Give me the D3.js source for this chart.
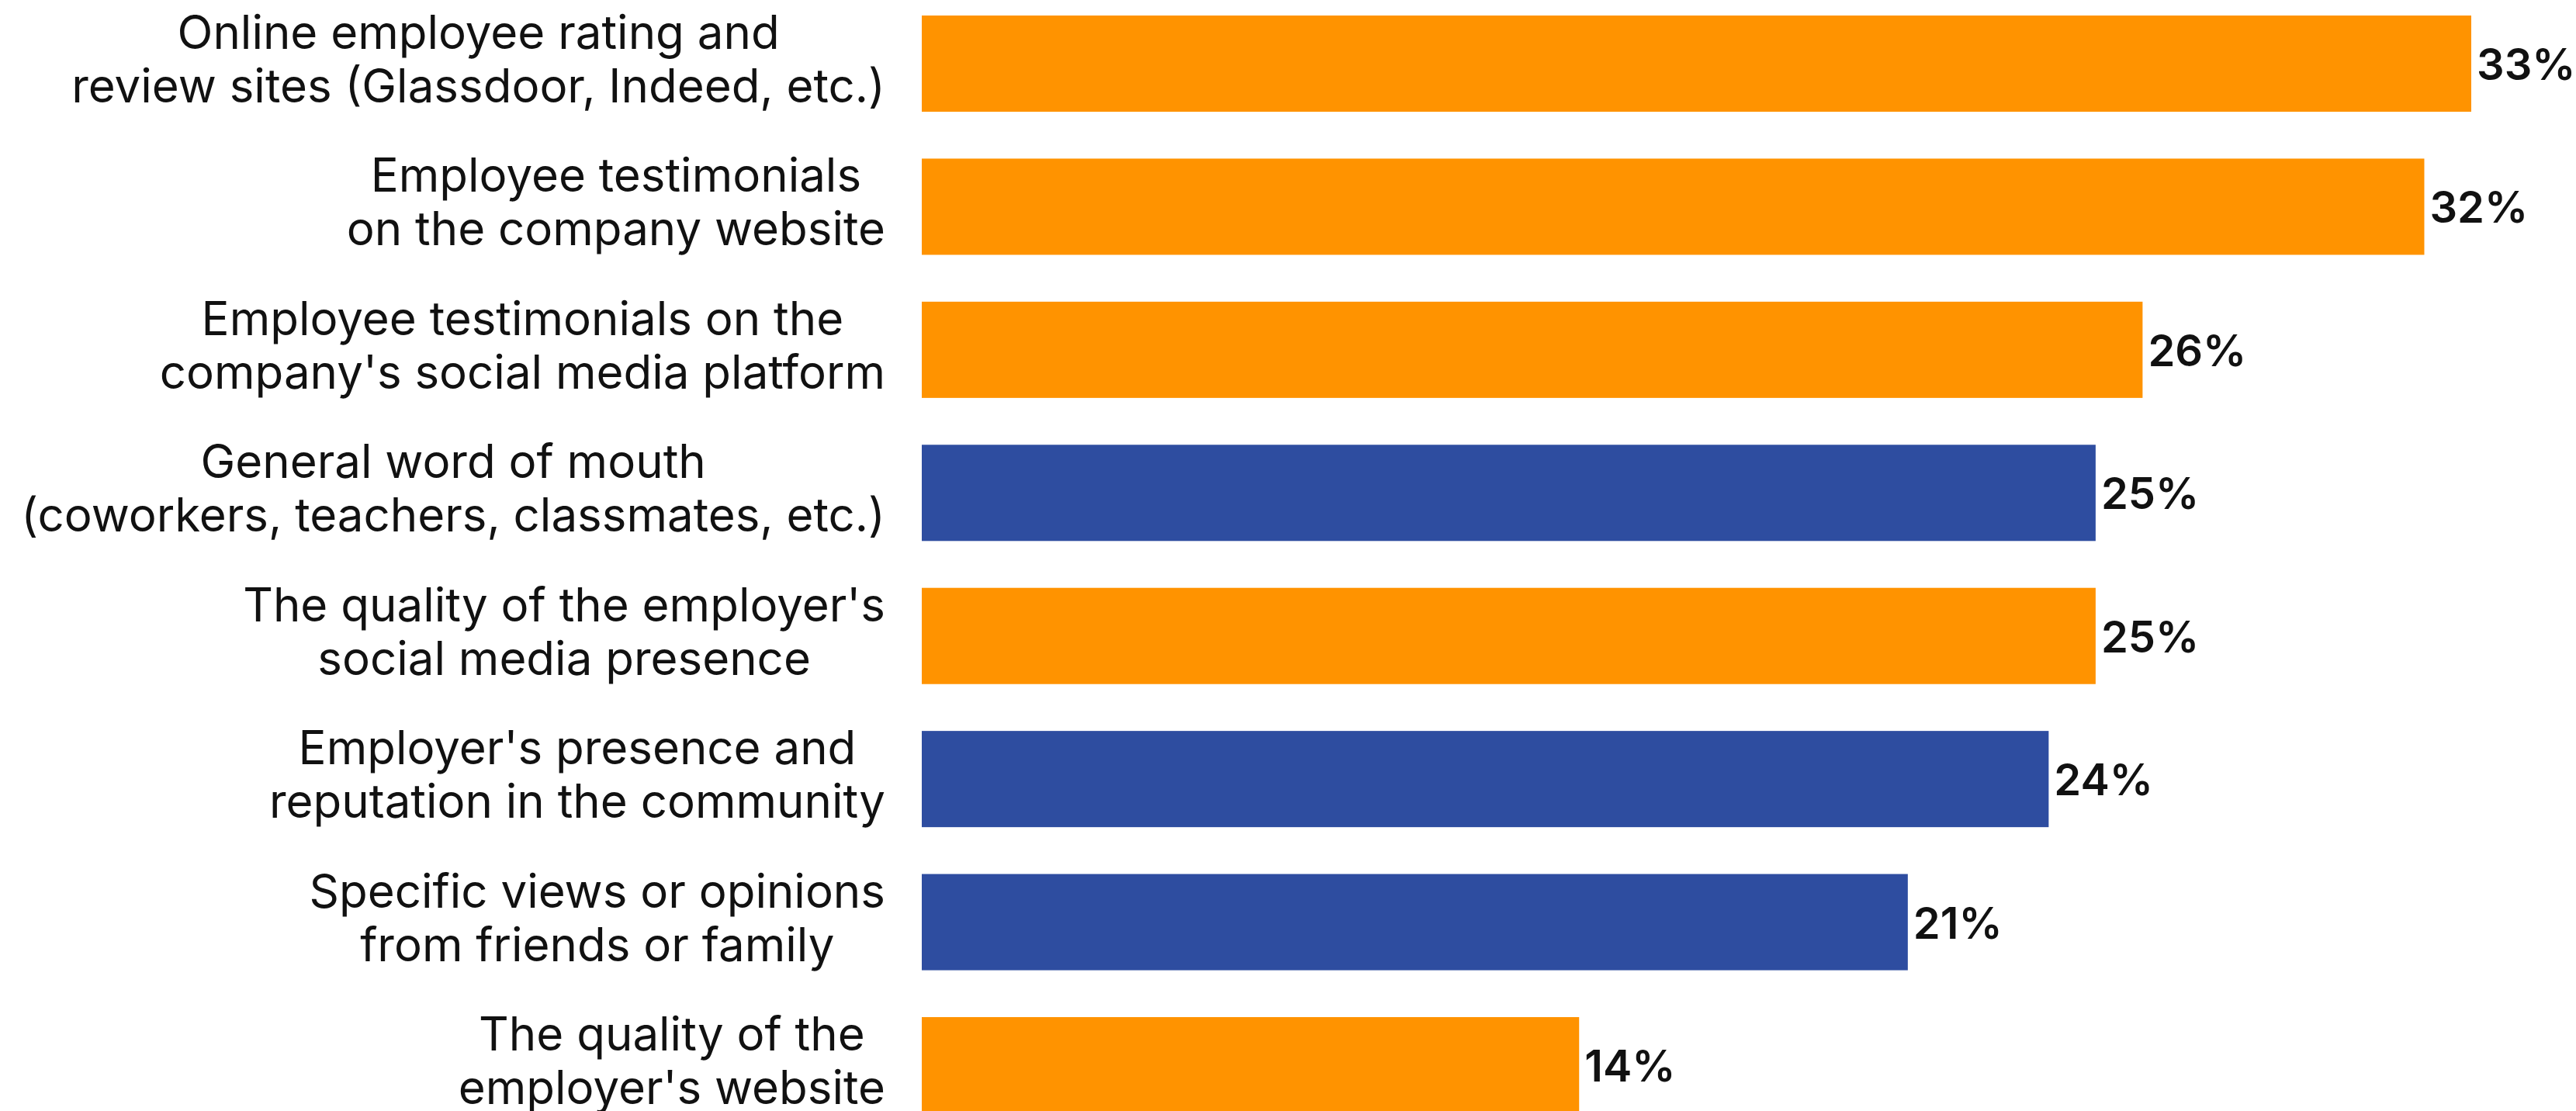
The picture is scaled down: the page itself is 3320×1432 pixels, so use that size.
<!DOCTYPE html>
<html>
<head>
<meta charset="utf-8">
<script src="https://cdn.jsdelivr.net/npm/d3@7"></script>
<style>
  html, body { margin: 0; padding: 0; background: #ffffff; }
  svg { display: block; }
  .cat { font-family: Inter, "Noto Sans", sans-serif; font-weight: 400; fill: #111; }
  .val { font-family: Inter, "Noto Sans", sans-serif; font-weight: 600; fill: #111; }
</style>
</head>
<body>
<svg id="chart"></svg>
<script>
// Sources respondents use to learn about a potential employer (% of respondents)
const categories = [
  ["Online employee rating and", "review sites (Glassdoor, Indeed, etc.)"],
  ["Employee testimonials", "on the company website"],
  ["Employee testimonials on the", "company's social media platform"],
  ["General word of mouth", "(coworkers, teachers, classmates, etc.)"],
  ["The quality of the employer's", "social media presence"],
  ["Employer's presence and", "reputation in the community"],
  ["Specific views or opinions", "from friends or family"],
  ["The quality of the", "employer's website"]
];
const values = [33, 32, 26, 25, 25, 24, 21, 14];
// Source type: "company" = employer-controlled channel, "external" = third-party
const groups = ["company", "company", "company", "external", "company", "external", "external", "company"];

const W = 3320, H = 1432;
const colors = { company: "#FF9300", external: "#2E4DA0" };

const svg = d3.select("#chart").attr("width", W).attr("height", H);

const keys = categories.map(d => d.join(" "));
const x = d3.scaleLinear().domain([0, 33]).range([1188, 3185]);
const y = d3.scaleBand().domain(keys).range([20, 1435]).paddingInner(0.3275).paddingOuter(0);

// Bars
svg.append("g").selectAll("rect")
  .data(values)
  .join("rect")
  .attr("x", x(0))
  .attr("y", (d, i) => y(keys[i]))
  .attr("width", d => x(d) - x(0))
  .attr("height", y.bandwidth())
  .attr("fill", (d, i) => colors[groups[i]]);

// Value labels
svg.append("g").selectAll("text")
  .data(values)
  .join("text")
  .attr("class", "val")
  .attr("x", d => x(d) + 7)
  .attr("y", (d, i) => y(keys[i]) + y.bandwidth() / 2 + 21)
  .attr("font-size", 56)
  .text(d => d + "%");

// Category labels: two centred lines, block right-aligned against the bars
const labelRight = 1141;
const catG = svg.append("g");
categories.forEach((lines, i) => {
  const cy = y(keys[i]) + y.bandwidth() / 2;
  const t = catG.append("text")
    .attr("class", "cat")
    .attr("font-size", 60)
    .attr("text-anchor", "middle");
  const spans = lines.map((s, j) => t.append("tspan")
    .attr("y", cy - 19 + j * 69)
    .text(s));
  const maxW = d3.max(spans, s => s.node().getComputedTextLength());
  spans.forEach(s => s.attr("x", labelRight - maxW / 2));
});
</script>
</body>
</html>
